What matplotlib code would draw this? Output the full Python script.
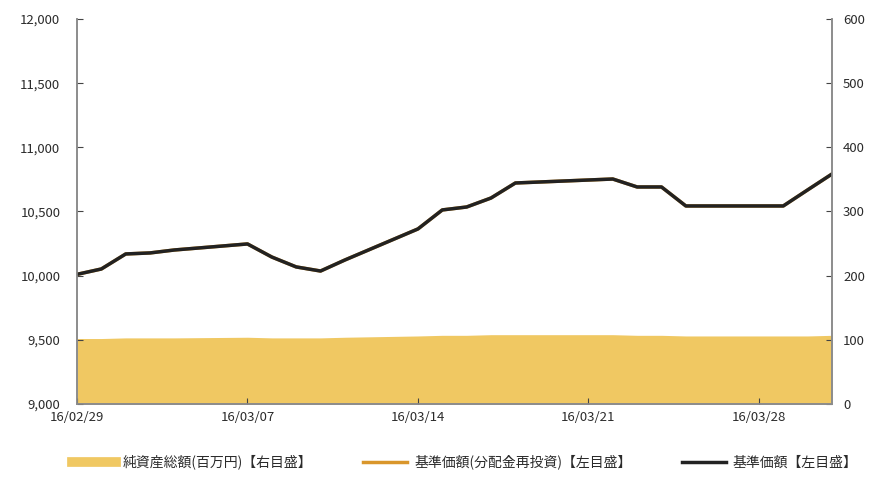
import matplotlib
matplotlib.use("Agg")
import matplotlib.pyplot as plt
import matplotlib.dates as mdates
import pandas as pd

plt.rcParams["font.family"] = ["Noto Sans CJK JP", "DejaVu Sans"]

# ── データ ────────────────────────────────────────────────────
dates = pd.to_datetime([
    "2016-02-29", "2016-03-01", "2016-03-02", "2016-03-03", "2016-03-04",
    "2016-03-07", "2016-03-08", "2016-03-09", "2016-03-10", "2016-03-11",
    "2016-03-14", "2016-03-15", "2016-03-16", "2016-03-17", "2016-03-18",
    "2016-03-22", "2016-03-23", "2016-03-24", "2016-03-25",
    "2016-03-28", "2016-03-29", "2016-03-30", "2016-03-31",
])
nav = [10010, 10052, 10169, 10177, 10200,
       10247, 10145, 10068, 10036, 10122,
       10364, 10512, 10535, 10605, 10722,
       10753, 10691, 10691, 10543,
       10543, 10543, 10668, 10792]
nav_reinvest = list(nav)   # 分配金なし → 同値
net_assets = [102, 102, 103, 103, 103,
              104, 103, 103, 103, 104,
              106, 107, 107, 108, 108,
              108, 107, 107, 106,
              106, 106, 106, 107]

tick_dates = pd.to_datetime(["2016-02-29", "2016-03-07", "2016-03-14",
                             "2016-03-21", "2016-03-28"])

FILL_C = "#F0C862"
ORANGE = "#D9962B"
TXT_C = "#2b2b2b"
SPINE_C = "#8C8C8C"

fig = plt.figure(figsize=(8.72, 4.83), dpi=100)
ax = fig.add_axes([0.0883, 0.1636, 0.8658, 0.7971])
ax2 = ax.twinx()

# 右軸：純資産総額
ax2.fill_between(dates, net_assets, 0, color=FILL_C, lw=0,
                 label="純資産総額(百万円)【右目盛】")
ax2.set_ylim(0, 600)
ax2.set_yticks(range(0, 601, 100))

# 左軸：基準価額
ax.plot(dates, nav_reinvest, color=ORANGE, lw=2.5,
        label="基準価額(分配金再投資)【左目盛】")
ax.plot(dates, nav, color="#222222", lw=2.5, label="基準価額【左目盛】")
ax.set_ylim(9000, 12000)
ax.set_yticks(range(9000, 12001, 500))
ax.yaxis.set_major_formatter(plt.FuncFormatter(lambda v, p: f"{int(v):,}"))

ax.set_xlim(pd.Timestamp("2016-02-29"), pd.Timestamp("2016-03-31"))
ax.set_xticks(tick_dates)
ax.xaxis.set_major_formatter(mdates.DateFormatter("%y/%m/%d"))

ax.set_zorder(ax2.get_zorder() + 1)
ax.patch.set_visible(False)

for a in (ax, ax2):
    a.spines["top"].set_visible(False)
    for s in ("left", "right", "bottom"):
        a.spines[s].set_color(SPINE_C)
        a.spines[s].set_linewidth(1.2)
    a.tick_params(direction="in", length=4, color="#444444",
                  labelsize=9.5, labelcolor=TXT_C)
ax.tick_params(axis="y", pad=12)
ax.tick_params(axis="x", pad=5)
ax2.tick_params(axis="y", pad=8)

# 凡例
h_fill = plt.Line2D([], [], color=FILL_C, lw=7)
h_or = plt.Line2D([], [], color=ORANGE, lw=2.5)
h_bk = plt.Line2D([], [], color="#222222", lw=2.5)
fig.legend([h_fill, h_or, h_bk],
           ["純資産総額(百万円)【右目盛】", "基準価額(分配金再投資)【左目盛】", "基準価額【左目盛】"],
           loc="center", bbox_to_anchor=(0.533, 0.043), ncol=3, frameon=False,
           fontsize=10, handlelength=3.2, handletextpad=0.5, columnspacing=3.6,
           labelcolor=TXT_C)

fig.savefig("out.png", dpi=100)
